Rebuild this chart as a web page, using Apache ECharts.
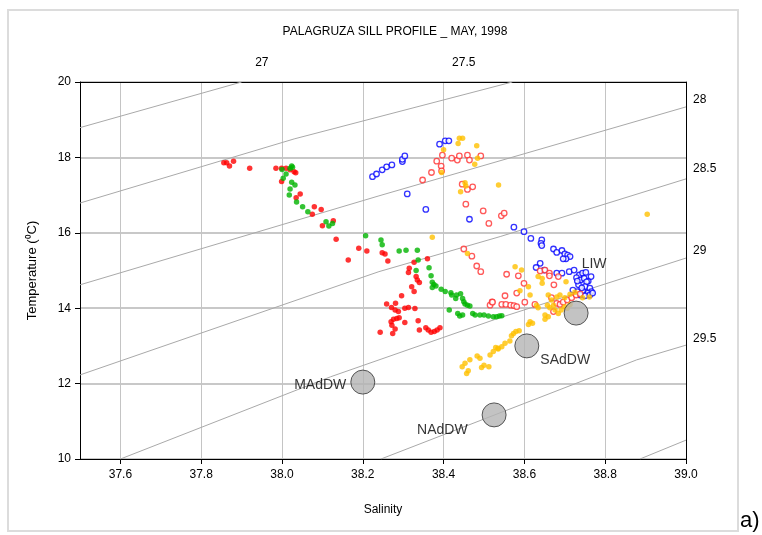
<!DOCTYPE html>
<html>
<head>
<meta charset="utf-8">
<title>Palagruza Sill T-S</title>
<script src="https://cdn.jsdelivr.net/npm/echarts@6/dist/echarts.min.js"></script>
<style>
  html, body { margin: 0; padding: 0; background: #fff; }
  #chart { width: 762px; height: 535px; }
</style>
</head>
<body>
<div id="chart"></div>
<script>
// salinity / temperature pairs
const redFilled = [
  [37.856,17.86],[37.863,17.86],[37.87,17.77],[37.88,17.90],[37.92,17.71],[37.985,17.71],[37.999,17.71],
  [38.01,17.71],[38.02,17.67],[38.03,17.62],[38.034,17.59],[37.999,17.36],[38.035,16.93],[38.045,17.03],
  [38.08,16.69],[38.097,16.62],[38.075,16.49],[38.10,16.19],[38.127,16.32],[38.134,15.83],[38.164,15.28],
  [38.19,15.59],[38.21,15.52],[38.248,15.47],[38.255,15.44],[38.262,15.25],[38.327,15.22],[38.36,15.31],
  [38.315,15.06],[38.313,14.95],[38.332,14.84],[38.335,14.75],[38.34,14.68],[38.321,14.57],[38.327,14.44],
  [38.296,14.33],[38.281,14.13],[38.259,14.11],[38.271,14.02],[38.28,13.95],[38.288,13.91],[38.304,14.0],
  [38.313,14.02],[38.329,13.99],[38.276,13.71],[38.284,13.73],[38.29,13.75],[38.27,13.64],[38.272,13.55],
  [38.304,13.62],[38.337,13.67],[38.28,13.45],[38.243,13.36],[38.274,13.33],[38.34,13.42],[38.356,13.48],
  [38.362,13.42],[38.369,13.36],[38.377,13.38],[38.384,13.42],[38.391,13.48]
];
const greenFilled = [
  [38.0,17.68],[38.024,17.77],[38.026,17.74],[38.02,17.71],[38.01,17.56],[38.003,17.45],[38.024,17.34],
  [38.032,17.27],[38.02,17.16],[38.018,17.0],[38.036,16.82],[38.051,16.69],[38.064,16.56],[38.109,16.29],
  [38.116,16.18],[38.125,16.25],[38.207,15.92],[38.245,15.81],[38.248,15.68],[38.29,15.52],[38.307,15.54],
  [38.335,15.54],[38.337,15.28],[38.332,15.0],[38.364,15.07],[38.369,14.86],[38.372,14.69],[38.376,14.63],
  [38.381,14.59],[38.372,14.55],[38.394,14.50],[38.404,14.44],[38.418,14.41],[38.42,14.35],[38.432,14.35],
  [38.442,14.38],[38.43,14.26],[38.447,14.26],[38.45,14.17],[38.453,14.11],[38.459,14.08],[38.465,14.06],
  [38.414,13.95],[38.435,13.86],[38.44,13.79],[38.447,13.82],[38.472,13.86],[38.478,13.82],[38.49,13.82],
  [38.5,13.82],[38.511,13.79],[38.523,13.77],[38.531,13.77],[38.538,13.79],[38.544,13.80]
];
const blueOpen = [
  [38.224,17.49],[38.234,17.56],[38.248,17.67],[38.259,17.75],[38.272,17.80],[38.298,17.89],[38.298,17.95],
  [38.304,18.04],[38.31,17.03],[38.356,16.62],[38.39,18.35],[38.404,18.44],[38.413,18.44],[38.464,16.36],
  [38.574,16.15],[38.599,16.03],[38.616,15.85],[38.643,15.81],[38.641,15.72],[38.643,15.66],[38.672,15.57],
  [38.68,15.48],[38.693,15.53],[38.70,15.44],[38.707,15.41],[38.713,15.37],[38.703,15.31],[38.696,15.31],
  [38.639,15.19],[38.629,15.08],[38.649,15.01],[38.68,14.93],[38.693,14.93],[38.711,14.97],[38.723,15.01],
  [38.736,14.88],[38.744,14.93],[38.752,14.95],[38.729,14.81],[38.739,14.75],[38.748,14.79],[38.758,14.72],
  [38.765,14.84],[38.754,14.70],[38.75,14.57],[38.762,14.53],[38.766,14.44],[38.757,14.40],[38.744,14.46],
  [38.731,14.44],[38.72,14.48],[38.738,14.35],[38.75,14.33],[38.762,14.35],[38.734,14.62],[38.742,14.54],
  [38.769,14.40],[38.731,14.72]
];
const redOpen = [
  [38.348,17.40],[38.37,17.60],[38.383,17.90],[38.394,17.77],[38.395,17.64],[38.397,18.06],[38.42,17.98],
  [38.434,17.93],[38.439,18.04],[38.459,18.06],[38.464,17.93],[38.492,18.04],[38.446,17.29],[38.459,17.15],
  [38.472,17.22],[38.455,16.76],[38.498,16.58],[38.512,16.25],[38.543,16.45],[38.55,16.52],[38.45,15.57],
  [38.47,15.38],[38.482,15.12],[38.492,14.97],[38.515,14.08],[38.52,14.17],[38.556,14.90],[38.585,14.86],
  [38.599,14.66],[38.581,14.40],[38.552,14.33],[38.521,14.16],[38.544,14.10],[38.554,14.10],[38.566,14.08],
  [38.574,14.07],[38.581,14.04],[38.601,14.16],[38.626,14.10],[38.639,14.99],[38.651,15.01],[38.662,14.93],
  [38.662,14.86],[38.684,14.84],[38.673,14.62],[38.667,14.28],[38.68,14.13],[38.688,14.10],[38.696,14.16],
  [38.706,14.22],[38.717,14.28],[38.728,14.35],[38.738,14.38],[38.672,13.91]
];
const orangeFilled = [
  [38.439,18.51],[38.447,18.51],[38.436,18.37],[38.40,18.20],[38.482,18.31],[38.484,17.98],[38.477,17.82],
  [38.395,17.60],[38.453,17.33],[38.455,17.24],[38.442,17.09],[38.536,17.27],[38.372,15.88],[38.459,15.45],
  [38.446,12.45],[38.453,12.54],[38.465,12.63],[38.483,12.73],[38.49,12.67],[38.457,12.27],[38.461,12.34],
  [38.494,12.43],[38.50,12.49],[38.512,12.45],[38.515,12.76],[38.523,12.85],[38.529,12.96],[38.535,12.94],
  [38.577,15.10],[38.593,15.01],[38.634,14.84],[38.644,14.79],[38.644,14.66],[38.703,14.70],[38.61,14.57],
  [38.614,14.35],[38.589,14.46],[38.63,14.08],[38.634,14.01],[38.659,14.35],[38.667,14.22],[38.657,14.08],
  [38.663,14.01],[38.672,14.08],[38.68,14.30],[38.688,14.35],[38.70,14.28],[38.713,14.37],[38.725,14.42],
  [38.744,14.28],[38.676,13.95],[38.684,13.86],[38.691,13.95],[38.70,14.04],[38.706,14.0],[38.713,14.10],
  [38.651,13.82],[38.651,13.71],[38.659,13.77],[38.614,13.64],[38.62,13.60],[38.61,13.57],[38.573,13.33],
  [38.579,13.38],[38.587,13.40],[38.568,13.27],[38.564,13.13],[38.552,13.07],[38.544,12.98],[38.535,12.92],
  [38.761,14.30],[38.904,16.49]
];

// water masses
const massNames = ['MAdDW', 'NAdDW', 'SAdDW', 'LIW'];
const massPoints = [[38.20,12.04],[38.525,11.17],[38.606,13.0],[38.728,13.87]];

// isopycnals (sigma-t)
const sigmaValues = ['27','27.5','28','28.5','29','29.5','30'];
const sigmaLines = [
  [[37.5,18.79],[37.90,20]],
  [[37.5,16.79],[38.03,18.49],[38.57,20]],
  [[37.5,14.62],[38.24,16.98],[39.0,19.34]],
  [[37.5,12.23],[38.24,14.97],[38.54,15.90],[39.0,17.43]],
  [[37.6,10],[38.12,12.18],[38.54,13.75],[39.0,15.33]],
  [[38.245,10],[38.878,12.63],[39.0,13.02]],
  [[38.886,10],[39.0,10.5]]
];
// where the sigma labels sit on the top and right edges
const topLabelAt = [37.95, 38.45];
const topLabels = ['27', '27.5'];
const rightLabelAt = [19.52, 17.70, 15.52, 13.18];
const rightLabels = ['28', '28.5', '29', '29.5'];

const salTicks = [37.6, 37.8, 38.0, 38.2, 38.4, 38.6, 38.8, 39.0];

const font = 'Arial, "Liberation Sans", sans-serif';
const chart = echarts.init(document.getElementById('chart'));

function pick(vals, labels) {
  return v => {
    let i = vals.findIndex(x => Math.abs(x - v) < 1e-6);
    return i < 0 ? '' : labels[i];
  };
}

const lineSeries = sigmaLines.map((pts, i) => ({
  type: 'line',
  name: 'sigma ' + sigmaValues[i],
  data: pts,
  symbol: 'none',
  silent: true,
  lineStyle: { color: '#a9a9a9', width: 1 },
  z: 1
}));

function dots(data, color) {
  return { type: 'scatter', data: data, symbol: 'circle', symbolSize: 5.5,
    itemStyle: { color: color }, z: 3 };
}
function rings(data, color) {
  return { type: 'scatter', data: data, symbol: 'circle', symbolSize: 5.5,
    itemStyle: { color: '#fff', borderColor: color, borderWidth: 1.3 }, z: 3 };
}

const massLabel = [
  { position: 'left', distance: 4, offset: [0, 3] },
  { position: 'left', distance: 14, offset: [0, 15] },
  { position: 'right', distance: 1, offset: [0, 14] },
  { position: 'top', distance: 29, offset: [18, 0] }
];

chart.setOption({
  animation: false,
  backgroundColor: '#fff',
  title: {
    text: 'PALAGRUZA SILL PROFILE _ MAY, 1998',
    left: 390, top: 21, textAlign: 'center',
    textStyle: { fontFamily: font, fontSize: 12, fontWeight: 'normal', color: '#000' }
  },
  grid: { left: 80, right: 76, top: 82, bottom: 76 },
  xAxis: [{
    type: 'value', min: 37.5, max: 39.0,
    name: 'Salinity', nameLocation: 'middle', nameGap: 45,
    nameTextStyle: { fontFamily: font, fontSize: 12, color: '#000' },
    axisLine: { lineStyle: { color: '#000', width: 1 } },
    axisTick: { show: true, length: 5, customValues: salTicks, lineStyle: { color: '#000' } },
    axisLabel: { customValues: salTicks, margin: 10, formatter: v => v.toFixed(1),
      fontFamily: font, fontSize: 12, color: '#000' },
    splitLine: { show: true, lineStyle: { color: '#c4c4c4', width: 1 } }
  }, {
    type: 'value', min: 37.5, max: 39.0, position: 'top',
    axisLine: { show: true, lineStyle: { color: '#000', width: 1 } },
    axisTick: { show: false },
    axisLabel: { customValues: topLabelAt, margin: 13, formatter: pick(topLabelAt, topLabels),
      fontFamily: font, fontSize: 12, color: '#000' },
    splitLine: { show: false }
  }],
  yAxis: [{
    type: 'value', min: 10, max: 20, interval: 2,
    name: 'Temperature (\u2070C)', nameLocation: 'middle', nameGap: 41,
    nameTextStyle: { fontFamily: font, fontSize: 13, color: '#000' },
    axisLine: { show: true, lineStyle: { color: '#000', width: 1 } },
    axisTick: { show: true, length: 5, lineStyle: { color: '#000' } },
    axisLabel: { margin: 9, fontFamily: font, fontSize: 12, color: '#000' },
    splitLine: { show: true, lineStyle: { color: '#c8c8c8', width: 2 } }
  }, {
    type: 'value', min: 10, max: 20, position: 'right',
    axisLine: { show: true, lineStyle: { color: '#000', width: 1 } },
    axisTick: { show: false },
    axisLabel: { customValues: rightLabelAt, margin: 7, formatter: pick(rightLabelAt, rightLabels),
      fontFamily: font, fontSize: 12, color: '#000' },
    splitLine: { show: false }
  }],
  graphic: [
    { type: 'rect', shape: { x: 8, y: 10, width: 730, height: 521 },
      style: { fill: null, stroke: '#dcdcdc', lineWidth: 2 }, silent: true, z: -10 },
    { type: 'text', left: 740, top: 510,
      style: { text: 'a)', fontFamily: font, fontSize: 22, fill: '#000' } }
  ],
  series: lineSeries.concat([
    dots(redFilled, '#ff0000'),
    dots(greenFilled, '#00b400'),
    rings(blueOpen, '#0000ff'),
    rings(redOpen, '#ff3030'),
    dots(orangeFilled, '#ffc000'),
    {
      type: 'scatter',
      data: massPoints.map((p, i) => ({
        value: p, name: massNames[i],
        label: Object.assign({ show: true, formatter: massNames[i],
          fontFamily: font, fontSize: 14, color: '#000' }, massLabel[i])
      })),
      symbol: 'circle', symbolSize: 24,
      itemStyle: { color: '#b4b4b4', borderColor: '#333', borderWidth: 1 },
      z: 4
    }
  ])
});
</script>
</body>
</html>
